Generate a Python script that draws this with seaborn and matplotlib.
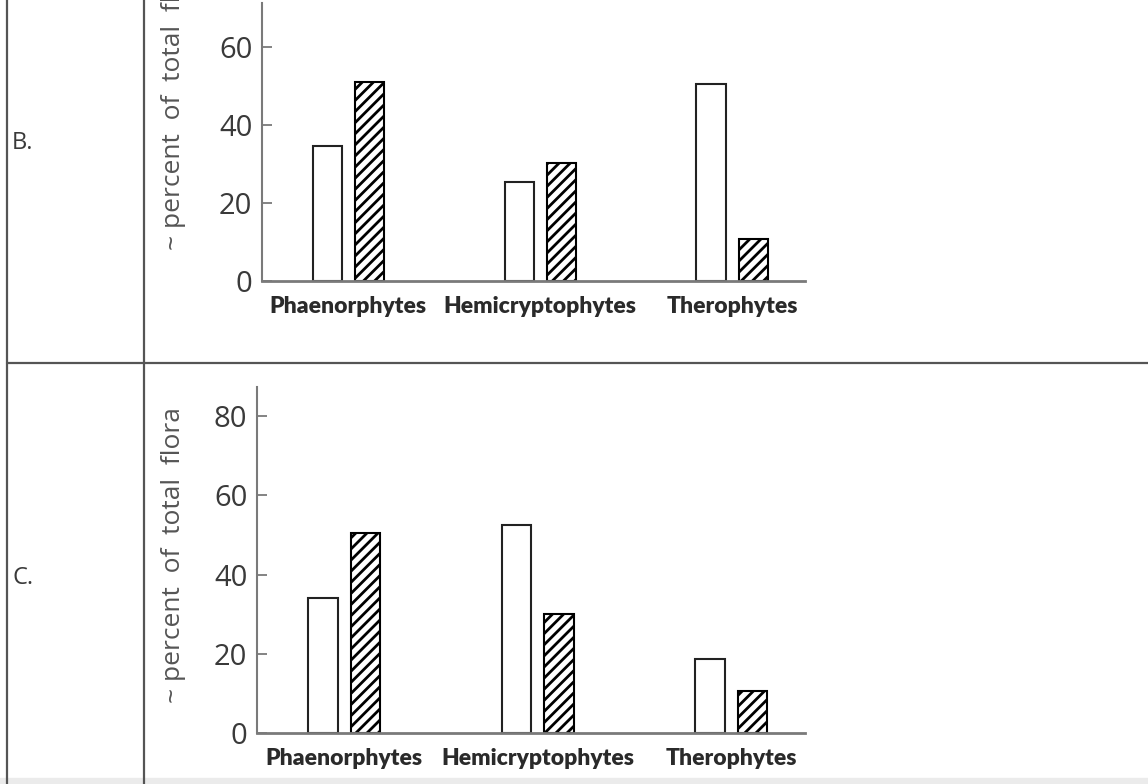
import numpy as np
import pandas as pd
import matplotlib
matplotlib.use("Agg")
import matplotlib.pyplot as plt
from matplotlib.lines import Line2D
from matplotlib.patches import Rectangle
import seaborn as sns

# Data
categories = ["Phaenorphytes", "Hemicryptophytes", "Therophytes"]
series = ["open", "hatched"]
panel_b_open = [34.5, 25.5, 50.5]
panel_b_hatched = [51, 30.3, 10.7]
panel_c_open = [34, 52.5, 18.7]
panel_c_hatched = [50.5, 30, 10.6]
b_ticks = [0, 20, 40, 60]
c_ticks = [0, 20, 40, 60, 80]
ylabel = "~ percent  of  total  flora"

sns.set_theme(style="white")
plt.rcParams["font.family"] = ["Open Sans", "DejaVu Sans"]
plt.rcParams["hatch.linewidth"] = 2.0
plt.rcParams["hatch.color"] = "black"

TEXT = "#3a3a3a"
SPINE = "#7a7a7a"
W, H = 1148, 784


def make_df(open_vals, hatched_vals):
    return pd.DataFrame({
        "category": categories * 2,
        "series": [series[0]] * 3 + [series[1]] * 3,
        "value": list(open_vals) + list(hatched_vals),
    })


def draw_panel(ax, df, ticks, ytop, label, label_xy):
    sns.barplot(data=df, x="category", y="value", hue="series",
                hue_order=series, order=categories,
                palette=["white", "white"], width=0.44, gap=0.31,
                edgecolor="#222222", linewidth=1.5, legend=False, ax=ax)
    n = len(categories)
    for i, p in enumerate(ax.patches):
        if i >= n:
            p.set_hatch("///")
            p.set_edgecolor("black")
    ax.set_xlim(-0.45, 2.38)
    ax.set_ylim(0, ytop)
    ax.set_yticks(ticks)
    ax.tick_params(axis="y", direction="in", length=7, width=1.3,
                   color=SPINE, pad=7, labelsize=21, labelcolor=TEXT, left=True)
    ax.tick_params(axis="x", length=0, pad=11)
    for t in ax.get_xticklabels():
        t.set_fontfamily(["Lato", "DejaVu Sans"])
        t.set_fontweight("heavy")
        t.set_fontsize(16.5)
        t.set_color("#2a2a2a")
    ax.set_xlabel("")
    ax.set_ylabel(label, fontsize=19, color="#555555")
    ax.yaxis.set_label_coords(*label_xy)
    sns.despine(ax=ax)
    ax.spines["left"].set_color(SPINE)
    ax.spines["left"].set_linewidth(1.5)
    ax.spines["bottom"].set_color(SPINE)
    ax.spines["bottom"].set_linewidth(2)
    ax.patch.set_alpha(0)


fig = plt.figure(figsize=(W / 100, H / 100), dpi=100)

# top panel is cropped at the image edge in the reference, label included
ax_b = fig.add_axes([262 / W, 1 - 281 / H, 543 / W, 278 / H])
draw_panel(ax_b, make_df(panel_b_open, panel_b_hatched), b_ticks, 71.3, ylabel,
           ((186 - 262) / 543, (281 - 102) / 278))

ax_c = fig.add_axes([257 / W, 1 - 733 / H, 548 / W, 346 / H])
draw_panel(ax_c, make_df(panel_c_open, panel_c_hatched), c_ticks, 87.4, ylabel,
           ((186 - 257) / 548, (733 - 555) / 346))

# table frame around the two panels
line_kw = dict(color="#555555", linewidth=1.6, transform=fig.transFigure)
fig.add_artist(Line2D([7 / W, 7 / W], [0, 1], **line_kw))
fig.add_artist(Line2D([144 / W, 144 / W], [0, 1], **line_kw))
fig.add_artist(Line2D([7 / W, 1], [1 - 363 / H] * 2, **line_kw))
fig.add_artist(Rectangle((0, 0), 1, 6 / H, transform=fig.transFigure,
                         color="#ebebeb", zorder=-1))

fig.text(12 / W, 1 - 143 / H, "B.", fontsize=17, color=TEXT, va="center")
fig.text(12 / W, 1 - 578 / H, "C.", fontsize=17, color=TEXT, va="center")

fig.savefig("out.png", dpi=100)
